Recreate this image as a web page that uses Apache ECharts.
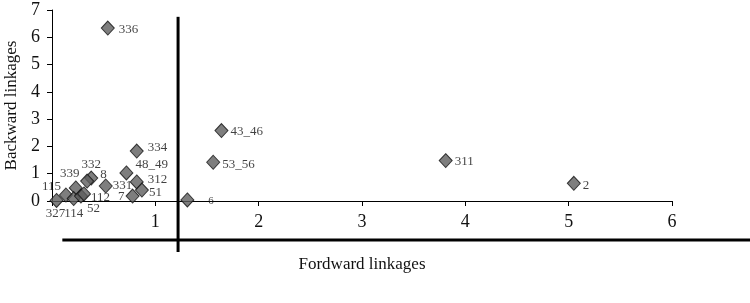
<!DOCTYPE html>
<html>
<head>
<meta charset="utf-8">
<script src="https://cdn.jsdelivr.net/npm/echarts@6/dist/echarts.min.js"></script>
<style>
html,body{margin:0;padding:0;background:#fff;}
#chart{width:750px;height:303px;}
</style>
</head>
<body>
<div id="chart"></div>
<script>
// Sector codes and linkage values
var sectors = ['336','334','48_49','312','51','7','331','8','332','339','115','327','114','52','112','6','43_46','53_56','311','2'];
var forward = [0.54,0.82,0.72,0.82,0.87,0.78,0.52,0.38,0.34,0.23,0.135,0.044,0.21,0.28,0.31,1.31,1.64,1.56,3.81,5.05];
var backward = [6.34,1.83,1.03,0.70,0.40,0.18,0.55,0.84,0.73,0.48,0.22,0.02,0.09,0.18,0.26,0.04,2.58,1.42,1.48,0.65];
var xTicks = [0,1,2,3,4,5,6];
var yTicks = [0,1,2,3,4,5,6,7];
// Divider lines (mean cross) in data units
var vLineX = 1.22, vLineY = [-1.87, 6.75];
var hLineY = -1.43, hLineX = [0.1, 6.76];

var labelStyle = {
  '336': {position:'right', offset:[0,2]},
  '334': {position:'right', offset:[0,-3]},
  '48_49': {position:'right', offset:[-2,-8]},
  '312': {position:'right', offset:[0,-2]},
  '51': {position:'right', offset:[-4,2]},
  '7': {position:'left', offset:[3,0]},
  '331': {position:'right', offset:[-4,0]},
  '8': {position:'right', offset:[-2,-4]},
  '332': {position:'top', offset:[4,2]},
  '339': {position:'top', offset:[-6,4]},
  '115': {position:'left', offset:[6,-8]},
  '327': {position:'bottom', offset:[-1,-5]},
  '114': {position:'bottom', offset:[0,-3]},
  '52': {position:'right', offset:[-5,12]},
  '112': {position:'right', offset:[-4,4]},
  '6': {position:'right', offset:[10,1], fontSize:11},
  '43_46': {position:'right', offset:[-2,1]},
  '53_56': {position:'right', offset:[-2,2]},
  '311': {position:'right', offset:[-2,1]},
  '2': {position:'right', offset:[-2,2]}
};

var FONT = '"Liberation Serif", "DejaVu Serif", serif';

var pts = sectors.map(function(name, i){
  var ls = labelStyle[name] || {position:'right', offset:[0,0]};
  return {
    name: name,
    value: [forward[i], backward[i]],
    label: {show:true, position: ls.position, offset: ls.offset, distance: 4,
            formatter: name, fontSize: ls.fontSize || 13, color:'#111', fontFamily: FONT}
  };
});

var chart = echarts.init(document.getElementById('chart'), null, {renderer:'canvas'});
chart.setOption({
  animation: false,
  backgroundColor: '#fff',
  grid: {left:52, top:10, width:620, height:191, containLabel:false, outerBoundsMode:'none'},
  xAxis: {
    type:'value', min:xTicks[0], max:xTicks[xTicks.length-1], interval:1,
    name:'Fordward linkages', nameLocation:'middle', nameGap:55,
    nameTextStyle:{fontFamily:FONT, fontSize:17, color:'#111'},
    axisLine:{show:true, onZero:false, lineStyle:{color:'#000', width:1}},
    axisTick:{show:true, inside:false, length:5, lineStyle:{color:'#000'}},
    axisLabel:{margin:12, fontFamily:FONT, fontSize:18, color:'#111',
               formatter:function(v){ return v===0 ? '' : String(v); }},
    splitLine:{show:false}
  },
  yAxis: {
    type:'value', min:yTicks[0], max:yTicks[yTicks.length-1], interval:1,
    name:'Backward linkages', nameLocation:'middle', nameGap:31,
    nameTextStyle:{fontFamily:FONT, fontSize:17, color:'#111'},
    axisLine:{show:true, onZero:false, lineStyle:{color:'#000', width:1}},
    axisTick:{show:true, inside:false, length:5, lineStyle:{color:'#000'}},
    axisLabel:{margin:12, fontFamily:FONT, fontSize:18, color:'#111'},
    splitLine:{show:false}
  },
  series: [
    {
      type:'scatter', z:3, clip:false,
      symbol:'diamond', symbolSize:[13,14],
      itemStyle:{color:'#5e5e5e', borderColor:'#111', borderWidth:1},
      data: pts
    }
  ]
});

// Divider lines positioned through the chart's own coordinate system
function drawDividers(){
  var v0 = chart.convertToPixel({gridIndex:0}, [vLineX, vLineY[0]]);
  var v1 = chart.convertToPixel({gridIndex:0}, [vLineX, vLineY[1]]);
  var h0 = chart.convertToPixel({gridIndex:0}, [hLineX[0], hLineY]);
  var h1 = chart.convertToPixel({gridIndex:0}, [hLineX[1], hLineY]);
  chart.setOption({
    graphic: [
      {type:'line', silent:true, z:1, shape:{x1:v0[0], y1:v0[1], x2:v1[0], y2:v1[1]}, style:{stroke:'#000', lineWidth:3}},
      {type:'line', silent:true, z:1, shape:{x1:h0[0], y1:h0[1], x2:h1[0], y2:h1[1]}, style:{stroke:'#000', lineWidth:3}}
    ]
  });
}
drawDividers();
</script>
</body>
</html>
